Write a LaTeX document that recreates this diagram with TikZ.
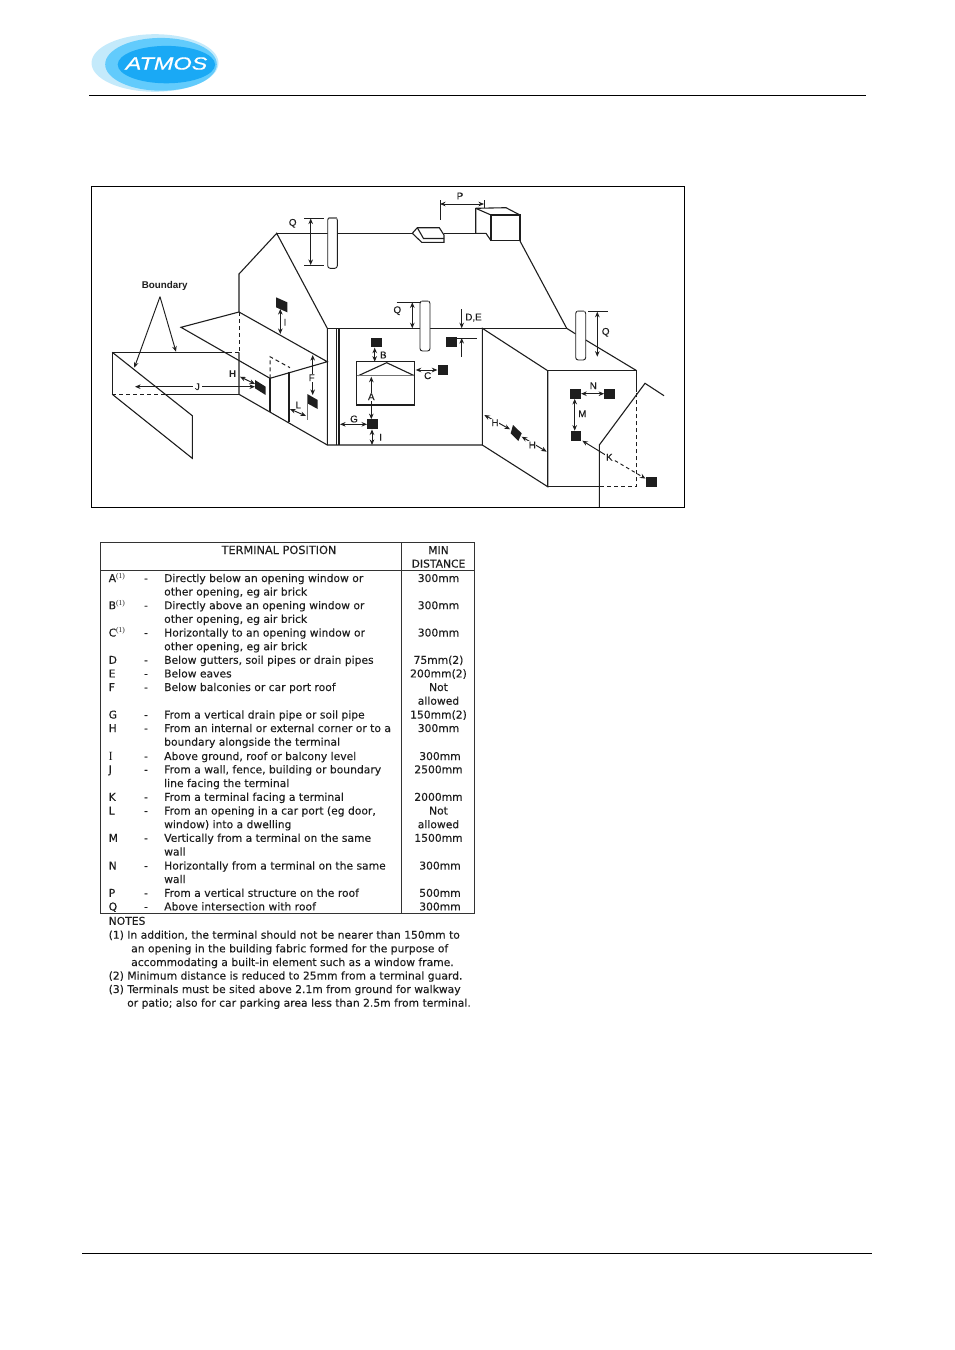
\documentclass[tikz,border=0pt]{standalone}
\usepackage{fontspec}
\setmainfont{DejaVu Sans}[FakeBold=0.22]
\newfontfamily\lab{Liberation Sans}[FakeBold=0.3]
\newfontfamily\labb{Liberation Sans Bold}
\newfontfamily\logofont{Liberation Sans}[FakeBold=0.5]
\newfontfamily\serifsup{Liberation Serif}
\usetikzlibrary{arrows.meta}
\definecolor{ink}{HTML}{1E1E1E}
\definecolor{logoA}{HTML}{C4EAFB}
\definecolor{logoB}{HTML}{62CBFC}
\definecolor{logoC}{HTML}{1AA9F5}
\newcommand{\sups}{\raisebox{3.6pt}{\serifsup\fontsize{7.5}{8}\selectfont(1)}}
\tikzset{
  house/.style={draw=ink,line width=1.1pt,line join=miter},
  thin line/.style={draw=ink,line width=0.8pt},
  dashes/.style={draw=ink,line width=1pt,dash pattern=on 4pt off 3pt},
  dim/.style={draw=ink,line width=0.95pt,{Stealth[length=5.6pt,width=4.6pt]}-{Stealth[length=5.6pt,width=4.6pt]}},
  dimone/.style={draw=ink,line width=0.95pt,-{Stealth[length=5.6pt,width=4.6pt]}},
  term/.style={fill=ink,draw=none,inner sep=0pt,minimum width=10.8pt,minimum height=9.8pt},
  lbl/.style={font=\lab\fontsize{9.8}{11}\selectfont,text=ink,inner sep=0.6pt},
  lblw/.style={lbl,fill=white},
  tbl/.style={font=\fontsize{10.75}{12}\selectfont,text=ink,anchor=base west,inner sep=0pt},
  tblc/.style={font=\fontsize{10.75}{12}\selectfont,text=ink,anchor=base,inner sep=0pt},
  rule/.style={draw=black!80,line width=1pt},
}
\begin{document}
\begin{tikzpicture}[x=1pt,y=-1pt]
\useasboundingbox (0,0) rectangle (954,1350);
% ---------- logo
\fill[logoA] (155,63) ellipse [x radius=63.5,y radius=28.8];
\fill[logoB] (161,64.3) ellipse [x radius=55.8,y radius=26.4];
\fill[logoC] (166.4,64.6) ellipse [x radius=48.7,y radius=18.7];
\node[font=\logofont\itshape\fontsize{17.5}{18}\selectfont,text=white,inner sep=0pt,xscale=1.34,transform shape] (logotext) at (166.5,63.5) {ATMOS};
% ---------- page rules
\coordinate (hl) at (89,95.5); \coordinate (hr) at (866,95.5);
\coordinate (fl) at (82,1253.5); \coordinate (fr) at (872,1253.5);
\draw[black,line width=0.9pt] (hl) -- (hr);
\draw[black,line width=0.9pt] (fl) -- (fr);
% ---------- drawing frame
\draw[black,line width=0.9pt] (91.7,186.5) rectangle (684.5,507.3);
% ---------- fence
\draw[house] (228,352.3) -- (112.3,352.3) -- (112.3,394.3);
\draw[house] (112.3,352.3) -- (192.3,415.7) -- (192.3,458.3) -- (112.3,394.3);
\draw[dashes] (112.3,394.3) -- (165,394.3);
\draw[house] (165,394.3) -- (239,394.3);
\draw[dashes] (228,352.3) -- (239,352.3);
% ---------- gable and main roof
\draw[house] (239,312) -- (239,274) -- (276.7,233.3) -- (327.3,328.3) -- (327.3,445);
\draw[house] (276.7,233.3) -- (327.5,233.3);
\draw[house] (337.5,233.3) -- (412.3,233.3);
\draw[house] (444,233.3) -- (475.7,233.3);
\draw[dashes] (239,312) -- (239,352.3);
\draw[house] (239,352.3) -- (239,394.3) -- (327.3,445) -- (482.3,445);
% carport roof
\draw[house] (239,312) -- (181,327.3) -- (270,378.3) -- (327.3,361.7) -- cycle;
\draw[house] (270,378.3) -- (270,411.7);
\draw[house] (289,371.7) -- (289,422.3);
\draw[dashes] (270,378.3) -- (270,356.7) -- (290,367.7);
% drain pipe and main wall
\draw[house] (336.7,328.3) -- (336.7,445);
\draw[house] (339,328.3) -- (339,445);
\draw[house] (327.3,328.3) -- (420,328.3);
\draw[house] (430,328.3) -- (566.7,328.3);
% side block
\draw[house] (482.3,328.3) -- (482.3,445) -- (547.7,486.7) -- (547.7,370.7) -- cycle;
\draw[house] (547.7,370.7) -- (636.7,370.7) -- (636.7,391.7);
\draw[house] (547.7,486.7) -- (600,486.7);
\draw[dashes] (600,486.7) -- (636.7,486.7) -- (636.7,391.7);
\draw[house] (520,241) -- (566.7,328.3) -- (575.7,334);
\draw[house] (585.7,340) -- (636.7,370.7);
% far house
\draw[house] (599.3,507) -- (599.3,445) -- (645,383.3) -- (664,395.7);
% ---------- roof vent
\draw[house] (412.3,233.3) -- (417.3,227.7) -- (439.3,227.7) -- (444,235) -- (444,242.3) -- (421.7,242.3) -- cycle;
\draw[house] (417.3,227.7) -- (423.5,238.5) -- (444,238.5);
% ---------- stack
\draw[house] (491,215) -- (520,215) -- (520,240.7) -- (491,240.7) -- cycle;
\draw[house] (475.7,233.3) -- (475.7,208.3) -- (506,207.7) -- (520,215);
\draw[house] (475.7,233.3) -- (486,233.3) -- (491,240.7);
\draw[house] (475.7,208.3) -- (491,215);
% ---------- chimneys
\draw[house,line width=0.9pt,rounded corners=2.5pt,fill=white] (327.7,217.5) rectangle (337.3,268.3);
\draw[draw=black!50,line width=1.2pt] (328.5,218) -- (336.5,218);
\draw[house,line width=0.9pt,rounded corners=2.5pt,fill=white] (420,301) rectangle (430,351);
\draw[draw=black!50,line width=1.2pt] (421,301.6) -- (429,301.6);
\draw[house,line width=0.9pt,rounded corners=2.5pt,fill=white] (575.7,311) rectangle (585.7,360);
\draw[draw=black!50,line width=1.2pt] (576.7,311.6) -- (584.7,311.6);
% ---------- window
\draw[house] (356.7,361.7) rectangle (414.3,405);
\draw[house] (358.3,375.7) -- (386.7,362.7) -- (414.3,375.7);
\draw[draw=black!55,line width=0.9pt] (356.7,375.7) -- (414.3,375.7);
% ---------- terminals on the walls
\node[term] (tB) at (376.3,342.5) {};
\node[term] (tG) at (372.7,424.3) {};
\node[term] (tC) at (443,370) {};
\node[term] (tDE) at (451.7,342.2) {};
\node[term] (tN1) at (575.5,393.7) {};
\node[term] (tN2) at (609.8,393.7) {};
\node[term] (tM) at (576,435.8) {};
\node[term] (tK) at (651.7,481.7) {};
\fill[ink] (276,297.3) -- (287.3,302.3) -- (287.3,312.3) -- (276,307.3) -- cycle;
\fill[ink] (255,380) -- (265.7,386.7) -- (265.7,395) -- (255,388.3) -- cycle;
\fill[ink] (307.3,394) -- (317.7,400) -- (317.7,409) -- (307.3,403.3) -- cycle;
\fill[ink] (513,425) -- (521.7,433.3) -- (518.3,441) -- (510.7,433.3) -- cycle;
\draw[house,draw=black!55] (307.3,403) -- (307.3,420);
% ---------- coordinates for free ends
\coordinate (qa1) at (310.7,218.5); \coordinate (qa2) at (310.7,265);
\coordinate (qb1) at (412.3,302.3); \coordinate (qb2) at (412.3,328.3);
\coordinate (qc1) at (597.3,311.7); \coordinate (qc2) at (597.3,356.7);
\coordinate (p1) at (440,204); \coordinate (p2) at (484,204);
\coordinate (de1) at (461.7,309); \coordinate (de2) at (461.7,328.3);
\coordinate (de3) at (461.7,356.7); \coordinate (de4) at (461.7,338);
\coordinate (bw) at (374.7,361.7);
\coordinate (aw) at (371.3,376.7);
\coordinate (gp) at (340,424.3);
\coordinate (ig) at (372,445);
\coordinate (cw) at (415.7,370);
\coordinate (i1) at (280.3,309); \coordinate (i2) at (280.3,334);
\coordinate (ha) at (240,376.7); \coordinate (hb) at (255,384);
\coordinate (j1) at (135,386.7); \coordinate (j2) at (255,386.7);
\coordinate (f1) at (312.7,355); \coordinate (f2) at (312.7,395);
\coordinate (l1) at (290,409); \coordinate (l2) at (306,416);
\coordinate (h1) at (484.3,415); \coordinate (h2) at (510,429.3);
\coordinate (h3) at (521.7,436.7); \coordinate (h4) at (546.7,451.7);
\coordinate (k1) at (582.3,440.7); \coordinate (k2) at (609.3,457.3); \coordinate (k3) at (645.5,478.6);
\coordinate (bA) at (134.3,367.7); \coordinate (bB) at (176,351.7);
% ---------- extension ticks
\draw[thin line] (304.3,218.3) -- (324.3,218.3);
\draw[thin line] (304.3,265) -- (324.3,265);
\draw[thin line] (396.7,302.3) -- (420,302.3);
\draw[thin line] (588.3,311.7) -- (607.7,311.7);
\draw[thin line] (440,200) -- (440,220);
\draw[thin line] (484,200) -- (484,208);
\draw[thin line] (457,338) -- (476.7,338);
% ---------- dimension arrows
\draw[dim] (qa1) -- (qa2);
\draw[dim] (qb1) -- (qb2);
\draw[dim] (qc1) -- (qc2);
\draw[dim] (p1) -- (p2);
\draw[dimone] (de1) -- (de2);
\draw[dimone] (de3) -- (de4);
\draw[dim] (tB.south -| bw) -- (bw);
\draw[dim] (aw) -- (tG.north -| aw);
\draw[dim] (gp) -- (tG.west);
\draw[dim] (tG.south -| ig) -- (ig);
\draw[dim] (cw) -- (tC.west);
\draw[dim] (i1) -- (i2);
\draw[dim] (ha) -- (hb);
\draw[dim] (j1) -- (j2);
\draw[dim] (f1) -- (f2);
\draw[dim] (l1) -- (l2);
\draw[dim] (h1) -- (h2);
\draw[dim] (h3) -- (h4);
\draw[dim] (tN1.east) -- (tN2.west);
\draw[dim] (tN1.south -| 574.7,0) -- (tM.north -| 574.7,0);
\draw[draw=ink,line width=0.95pt,{Stealth[length=5.6pt,width=4.6pt]}-] (k1) -- (k2);
\draw[draw=ink,line width=0.95pt,dash pattern=on 3.5pt off 3pt,-{Stealth[length=5.6pt,width=4.6pt]}] (k2) -- (k3);
% ---------- boundary
\node[font=\labb\fontsize{9.8}{11}\selectfont,text=ink,inner sep=0pt] (bnd) at (164.7,286) {Boundary};
\coordinate (bT) at (160,296.7);
\draw[dimone] (bT) -- (bA);
\draw[dimone] (bT) -- (bB);
% ---------- labels
\node[lbl] (lQa) at (292.7,223.3) {Q};
\node[lbl] (lQb) at (397.3,310.7) {Q};
\node[lbl] (lQc) at (605.7,332.3) {Q};
\node[lbl] (lP) at (460,196) {P};
\node[lbl] (lDE) at (473.5,317.7) {D,E};
\node[lbl] (lB) at (383.3,355) {B};
\node[lblw] (lA) at (371.3,396.7) {A};
\node[lbl] (lG) at (354,419) {G};
\node[lbl] (lI) at (380.7,437.3) {I};
\node[lbl] (lC) at (427.7,375.7) {C};
\node[lbl] (lIb) at (285,322.3) {I};
\node[lbl,font=\labb\fontsize{9.8}{11}\selectfont] (lH) at (232.7,374) {H};
\node[lblw] (lJ) at (197.3,386.7) {\,J\,};
\node[lblw] (lF) at (311.7,377.7) {F};
\node[lbl] (lL) at (298.3,405) {L};
\node[lblw] (lHa) at (495,422.7) {H};
\node[lblw] (lHb) at (532.3,445) {H};
\node[lbl] (lN) at (593.3,385.7) {N};
\node[lbl] (lM) at (582.3,413.7) {M};
\node[lblw] (lK) at (609.3,457.3) {K};
% ---------- table
\draw[rule] (100.3,542.3) rectangle (474.8,913.3);
\draw[rule] (401.7,542.3) -- (401.7,913.3);
\draw[rule] (100.3,570.8) -- (474.8,570.8);
\node[tblc,font=\fontsize{11.3}{12}\selectfont] (hd1) at (279,554) {TERMINAL POSITION};
\node[tblc] (hd2) at (438.5,554) {MIN};
\node[tblc] (hd3) at (438.5,567.5) {DISTANCE};
\foreach \y/\le [count=\i] in {582/{A\sups},609.2/{B\sups},636.5/{C\sups},663.8/D,677.4/E,691/F,718.5/G,732/H,760/{\serifsup\fontsize{12.5}{13}\selectfont I},773.3/J,800.8/K,814.5/L,841.8/M,869.5/N,896.8/P,910.4/Q}{
  \node[tbl] (let\i) at (108.5,\y) {\le};
  \node[tblc] (dash\i) at (146,\y) {-};
}
\foreach \y/\de [count=\i] in {
582/Directly below an opening window or,
595.5/{other opening, eg air brick},
609.2/Directly above an opening window or,
622.8/{other opening, eg air brick},
636.5/Horizontally to an opening window or,
650.2/{other opening, eg air brick},
663.8/{Below gutters, soil pipes or drain pipes},
677.4/Below eaves,
691/Below balconies or car port roof,
718.5/From a vertical drain pipe or soil pipe,
732/From an internal or external corner or to a,
745.7/boundary alongside the terminal,
760/{Above ground, roof or balcony level},
773.3/{From a wall, fence, building or boundary},
787/line facing the terminal,
800.8/From a terminal facing a terminal,
814.5/{From an opening in a car port (eg door,},
828.2/{window) into a dwelling},
841.8/Vertically from a terminal on the same,
855.5/wall,
869.5/Horizontally from a terminal on the same,
883/wall,
896.8/From a vertical structure on the roof,
910.4/Above intersection with roof}{
  \node[tbl] (desc\i) at (164,\y) {\de};
}
\foreach \y/\x/\di [count=\i] in {
582/438.5/300mm,609.2/438.5/300mm,636.5/438.5/300mm,663.8/438.5/75mm(2),677.4/438.5/200mm(2),
691/438.5/Not,704.7/438.5/allowed,718.5/438.5/150mm(2),732/438.5/300mm,760/440/300mm,773.3/438.5/2500mm,
800.8/438.5/2000mm,814.5/438.5/Not,828.2/438.5/allowed,841.8/438.5/1500mm,869.5/440/300mm,896.8/440/500mm,910.4/440/300mm}{
  \node[tblc] (dist\i) at (\x,\y) {\di};
}
% ---------- notes
\foreach \x/\y/\t [count=\i] in {
108.5/924.8/NOTES,
108.5/938.7/{(1) In addition, the terminal should not be nearer than 150mm to},
131/952.3/{an opening in the building fabric formed for the purpose of},
131/966/{accommodating a built-in element such as a window frame.},
108.5/979.5/{(2) Minimum distance is reduced to 25mm from a terminal guard.},
108.5/993/{(3) Terminals must be sited above 2.1m from ground for walkway},
127/1006.7/{or patio; also for car parking area less than 2.5m from terminal.}}{
  \node[tbl] (note\i) at (\x,\y) {\t};
}
\end{tikzpicture}
\end{document}
